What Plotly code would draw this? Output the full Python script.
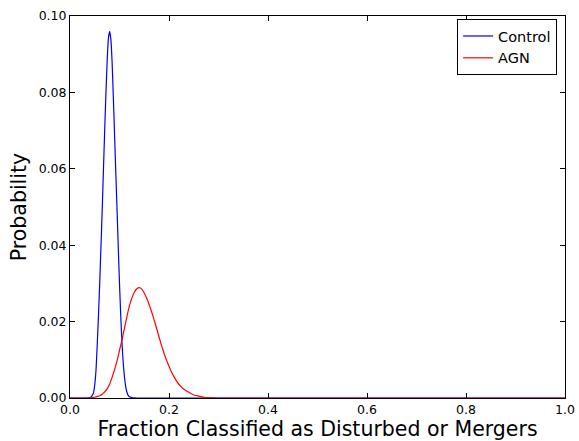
import plotly.graph_objects as go

# Probability curves for the merger/disturbed fraction
control_x = [0.000, 0.030, 0.035, 0.0375, 0.040, 0.0425, 0.045, 0.0475, 0.050, 0.0525,
             0.055, 0.0575, 0.060, 0.0625, 0.065, 0.0675, 0.070, 0.0725, 0.075, 0.0775,
             0.080, 0.0825, 0.085, 0.0875, 0.090, 0.0925, 0.095, 0.0975, 0.100, 0.1025,
             0.105, 0.1075, 0.110, 0.1125, 0.115, 0.1175, 0.120, 0.125, 0.130, 0.135,
             1.000]
control_y = [0.0, 0.0, 0.0, 0.00003, 0.0001, 0.0003, 0.0007, 0.0014, 0.0035, 0.0072,
             0.0140, 0.0215, 0.0300, 0.0395, 0.0490, 0.0595, 0.0697, 0.0795, 0.0880, 0.0940,
             0.0960, 0.0940, 0.0880, 0.0790, 0.0690, 0.0590, 0.0495, 0.0395, 0.0300, 0.0215,
             0.0145, 0.0092, 0.0055, 0.0030, 0.0015, 0.0007, 0.0003, 0.0001, 0.00002, 0.0,
             0.0]

agn_x = [0.000, 0.030, 0.040, 0.050, 0.055, 0.060, 0.065, 0.070, 0.075, 0.080,
         0.085, 0.090, 0.095, 0.100, 0.105, 0.110, 0.115, 0.120, 0.125, 0.130,
         0.135, 0.140, 0.145, 0.150, 0.155, 0.160, 0.165, 0.170, 0.175, 0.180,
         0.185, 0.190, 0.195, 0.200, 0.205, 0.210, 0.215, 0.220, 0.225, 0.230,
         0.240, 0.250, 0.260, 0.270, 0.280, 0.290, 0.300, 1.000]
agn_y = [0.0, 0.0, 0.00005, 0.0002, 0.0004, 0.0006, 0.0010, 0.0016, 0.0024, 0.0036,
         0.0054, 0.0074, 0.0097, 0.0125, 0.0152, 0.0183, 0.0213, 0.0241, 0.0262, 0.0277,
         0.0286, 0.0289, 0.0285, 0.0275, 0.0261, 0.0244, 0.0225, 0.0204, 0.0182, 0.0159,
         0.0137, 0.0117, 0.0099, 0.0083, 0.0068, 0.0056, 0.0045, 0.0036, 0.0029, 0.0023,
         0.0015, 0.0008, 0.0005, 0.0002, 0.0001, 0.00004, 0.0, 0.0]

x_ticks = [0.0, 0.2, 0.4, 0.6, 0.8, 1.0]
y_ticks = [0.00, 0.02, 0.04, 0.06, 0.08, 0.10]

fig = go.Figure()
fig.add_trace(go.Scatter(x=control_x, y=control_y, mode="lines", name="Control",
                         line=dict(color="blue", width=1.2, shape="spline", smoothing=0.4)))
fig.add_trace(go.Scatter(x=agn_x, y=agn_y, mode="lines", name="AGN",
                         line=dict(color="red", width=1.2, shape="spline", smoothing=0.4)))

font = "DejaVu Sans, sans-serif"
axis_common = dict(
    showgrid=False, zeroline=False, showline=True, linecolor="black", linewidth=1,
    mirror="ticks", ticks="inside", ticklen=5, tickwidth=1, tickcolor="black",
    tickfont=dict(family=font, size=12.5, color="black"), automargin=False,
)

fig.update_layout(
    width=579, height=441,
    margin=dict(l=70, r=14, t=16, b=43),
    paper_bgcolor="white", plot_bgcolor="white",
    font=dict(family=font, color="black"),
    xaxis=dict(range=[0, 1], tickvals=x_ticks, ticktext=[f"{v:.1f}" for v in x_ticks],
               title=dict(text="Fraction Classified as Disturbed or Mergers",
                          font=dict(family=font, size=20.5), standoff=4),
               **axis_common),
    yaxis=dict(range=[0, 0.10], tickvals=y_ticks, ticktext=[f"{v:.2f}" for v in y_ticks],
               title=dict(text="Probability", font=dict(family=font, size=20.5), standoff=6),
               **axis_common),
    legend=dict(x=0.984, y=0.992, xanchor="right", yanchor="top",
                bordercolor="black", borderwidth=1, bgcolor="white",
                itemwidth=30,
                font=dict(family=font, size=14.5)),
    showlegend=True,
)

fig.write_html("out.html")
